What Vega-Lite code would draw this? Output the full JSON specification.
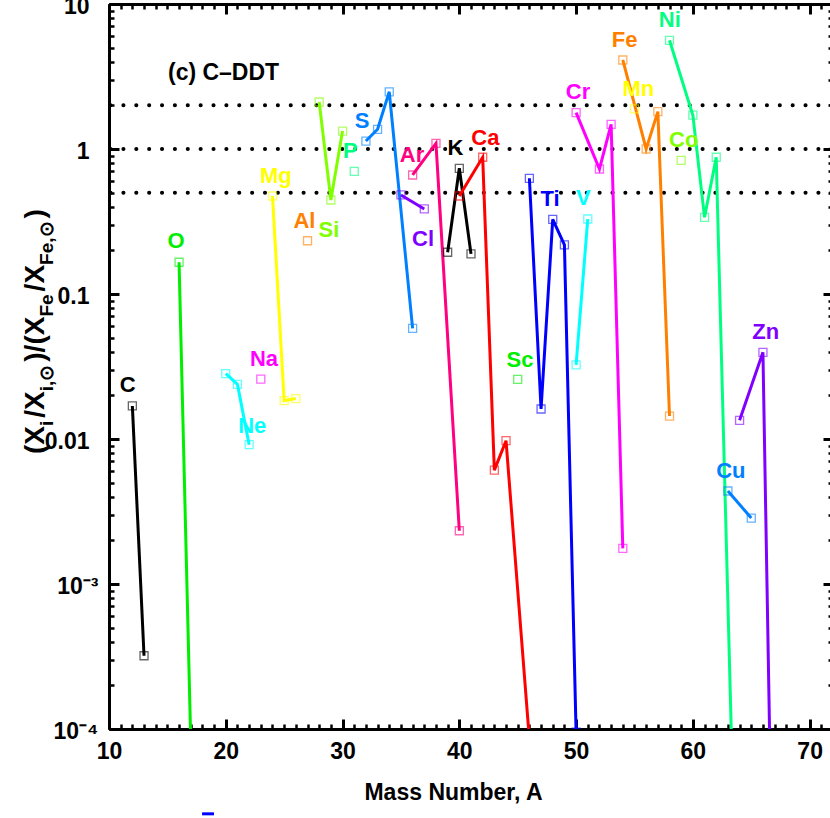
{
  "$schema": "https://vega.github.io/schema/vega-lite/v6.json",
  "width": 724,
  "height": 725,
  "autosize": {"type": "none"},
  "padding": {"left": 109, "top": 4, "right": 0, "bottom": 89},
  "background": "white",
  "config": {
    "view": {"stroke": null},
    "axis": {"domainColor": "black", "domainWidth": 3, "tickColor": "black", "tickWidth": 2.5, "grid": false, "labelFont": "Liberation Sans", "labelFontWeight": "bold", "labelFontSize": 23, "labelColor": "black", "titleFont": "Liberation Sans", "titleFontWeight": "bold", "titleFontSize": 23, "titleColor": "black", "labelOverlap": false, "labelFlush": false},
    "text": {"font": "Liberation Sans", "fontWeight": "bold"}
  },
  "datasets": {
    "pts": [
      {"el": "C", "A": 12, "v": 0.0169}, {"el": "C", "A": 13, "v": 0.00032},
      {"el": "O", "A": 16, "v": 0.1655}, {"el": "O", "A": 17, "v": 0.000083},
      {"el": "Ne", "A": 20, "v": 0.0282}, {"el": "Ne", "A": 21, "v": 0.0238}, {"el": "Ne", "A": 22, "v": 0.00914},
      {"el": "Na", "A": 23, "v": 0.0259},
      {"el": "Mg", "A": 24, "v": 0.474}, {"el": "Mg", "A": 25, "v": 0.01837}, {"el": "Mg", "A": 26, "v": 0.019},
      {"el": "Al", "A": 27, "v": 0.233},
      {"el": "Si", "A": 28, "v": 2.11}, {"el": "Si", "A": 29, "v": 0.445}, {"el": "Si", "A": 30, "v": 1.33},
      {"el": "P", "A": 31, "v": 0.702},
      {"el": "S", "A": 32, "v": 1.135}, {"el": "S", "A": 33, "v": 1.367}, {"el": "S", "A": 34, "v": 2.48}, {"el": "S", "A": 36, "v": 0.058},
      {"el": "Cl", "A": 35, "v": 0.482}, {"el": "Cl", "A": 37, "v": 0.386},
      {"el": "Ar", "A": 36, "v": 0.662}, {"el": "Ar", "A": 38, "v": 1.094}, {"el": "Ar", "A": 40, "v": 0.00233},
      {"el": "K", "A": 39, "v": 0.194}, {"el": "K", "A": 40, "v": 0.736}, {"el": "K", "A": 41, "v": 0.189},
      {"el": "Ca", "A": 40, "v": 0.474}, {"el": "Ca", "A": 42, "v": 0.877}, {"el": "Ca", "A": 43, "v": 0.0061}, {"el": "Ca", "A": 44, "v": 0.00973}, {"el": "Ca", "A": 46, "v": 0.000085},
      {"el": "Sc", "A": 45, "v": 0.0258},
      {"el": "Ti", "A": 46, "v": 0.628}, {"el": "Ti", "A": 47, "v": 0.0161}, {"el": "Ti", "A": 48, "v": 0.327}, {"el": "Ti", "A": 49, "v": 0.218}, {"el": "Ti", "A": 50, "v": 0.000095},
      {"el": "V", "A": 50, "v": 0.0324}, {"el": "V", "A": 51, "v": 0.329},
      {"el": "Cr", "A": 50, "v": 1.78}, {"el": "Cr", "A": 52, "v": 0.728}, {"el": "Cr", "A": 53, "v": 1.48}, {"el": "Cr", "A": 54, "v": 0.00176},
      {"el": "Mn", "A": 55, "v": 1.89},
      {"el": "Fe", "A": 54, "v": 4.11}, {"el": "Fe", "A": 56, "v": 1.0}, {"el": "Fe", "A": 57, "v": 1.81}, {"el": "Fe", "A": 58, "v": 0.0144},
      {"el": "Co", "A": 59, "v": 0.836},
      {"el": "Ni", "A": 58, "v": 5.62}, {"el": "Ni", "A": 60, "v": 1.71}, {"el": "Ni", "A": 61, "v": 0.338}, {"el": "Ni", "A": 62, "v": 0.877}, {"el": "Ni", "A": 64, "v": 0.00000063},
      {"el": "Cu", "A": 63, "v": 0.00438}, {"el": "Cu", "A": 65, "v": 0.00285},
      {"el": "Zn", "A": 64, "v": 0.01345}, {"el": "Zn", "A": 66, "v": 0.0396}, {"el": "Zn", "A": 67, "v": 0.000001}
    ],
    "labs": [
      {"el": "C", "A": 11.61, "v": 0.0211}, {"el": "O", "A": 15.74, "v": 0.2075}, {"el": "Ne", "A": 22.27, "v": 0.011},
      {"el": "Na", "A": 23.27, "v": 0.0319}, {"el": "Mg", "A": 24.28, "v": 0.583}, {"el": "Al", "A": 26.74, "v": 0.285},
      {"el": "Si", "A": 28.84, "v": 0.246}, {"el": "P", "A": 30.67, "v": 0.871}, {"el": "S", "A": 31.67, "v": 1.389},
      {"el": "Cl", "A": 36.89, "v": 0.214}, {"el": "Ar", "A": 35.95, "v": 0.809}, {"el": "K", "A": 39.67, "v": 0.909},
      {"el": "Ca", "A": 42.23, "v": 1.066}, {"el": "Sc", "A": 45.2, "v": 0.0312}, {"el": "Ti", "A": 47.77, "v": 0.404},
      {"el": "V", "A": 50.62, "v": 0.411}, {"el": "Cr", "A": 50.16, "v": 2.2}, {"el": "Mn", "A": 55.33, "v": 2.32},
      {"el": "Fe", "A": 54.16, "v": 5.08}, {"el": "Co", "A": 59.22, "v": 1.037}, {"el": "Ni", "A": 58.02, "v": 6.97},
      {"el": "Cu", "A": 63.25, "v": 0.00536}, {"el": "Zn", "A": 66.24, "v": 0.0487}
    ],
    "refs": [{"v": 0.5}, {"v": 1}, {"v": 2}],
    "note": [{"t": "(c) C–DDT", "A": 15.05, "v": 2.99}],
    "ytb": [
      {"t": "(X", "A": 4.43, "v": 0.00788},
      {"t": "/X", "A": 4.43, "v": 0.014024},
      {"t": ")/(X", "A": 4.43, "v": 0.034126},
      {"t": "/X", "A": 4.43, "v": 0.10421},
      {"t": ")", "A": 4.43, "v": 0.33176}
    ],
    "yts": [
      {"t": "i", "A": 5.2, "v": 0.012291},
      {"t": "i,⊙", "A": 5.2, "v": 0.021368},
      {"t": "Fe", "A": 5.2, "v": 0.069842},
      {"t": "Fe,⊙", "A": 5.2, "v": 0.15873}
    ],
    "stray": [{"A": 17.97, "A2": 18.99, "v": 0.000026}]
  },
  "layer": [
    {
      "layer": [
        {
          "data": {"name": "refs"},
          "mark": {"type": "rule", "color": "black", "strokeWidth": 4, "strokeCap": "round", "strokeDash": [0.1, 12.77], "strokeDashOffset": 11.2},
          "encoding": {
            "y": {"field": "v", "type": "quantitative", "scale": {"type": "log", "domain": [0.0001, 10], "nice": false}}
          }
        },
        {
          "data": {"name": "pts"},
          "mark": {"type": "line", "strokeWidth": 3, "clip": true},
          "encoding": {
            "x": {"field": "A", "type": "quantitative", "scale": {"domain": [10, 72], "nice": false, "zero": false},
              "axis": {"orient": "bottom", "values": [10,20,30,40,50,60,70],
                "labelOverlap": false, "tickSize": -10, "tickWidth": 3, "labelPadding": 21,
                "title": "Mass Number, A", "titleX": 344, "titleY": 70, "titleAlign": "center", "titleBaseline": "alphabetic", "titleAnchor": null}},
            "y": {"field": "v", "type": "quantitative", "scale": {"type": "log", "domain": [0.0001, 10], "nice": false},
              "axis": {"orient": "left", "values": [0.0001,0.001,0.01,0.1,1,10],
                "labelExpr": "datum.value == 10 ? '10' : datum.value == 1 ? '1' : datum.value == 0.1 ? '0.1' : datum.value == 0.01 ? '0.01' : datum.value == 0.001 ? '10⁻³' : '10⁻⁴'",
                "labelOverlap": false, "tickSize": -10, "tickWidth": 3,
                "labelPadding": {"condition": {"test": "datum.value < 0.005", "value": 21}, "value": 30},
                "labelOffset": 2,
                "title": null}},
            "color": {"field": "el", "type": "nominal", "legend": null,
              "scale": {"domain": ["C","O","Ne","Na","Mg","Al","Si","P","S","Cl","Ar","K","Ca","Sc","Ti","V","Cr","Mn","Fe","Co","Ni","Cu","Zn"],
                "range": ["#000000","#00ee00","#00ffff","#ff00ff","#ffff00","#ff8000","#80ff00","#00ff80","#0080ff","#8000ff","#ff0080","#000000","#ff0000","#00ee00","#0000ff","#00ffff","#ff00ff","#ffff00","#ff8000","#80ff00","#00ff80","#0080ff","#8000ff"]}}
          }
        },
        {
          "data": {"name": "pts"},
          "mark": {"type": "point", "shape": "square", "filled": false, "size": 64, "strokeWidth": 1.3, "opacity": 0.6, "clip": true},
          "encoding": {
            "x": {"field": "A", "type": "quantitative", "scale": {"domain": [10, 72], "nice": false, "zero": false}},
            "y": {"field": "v", "type": "quantitative", "scale": {"type": "log", "domain": [0.0001, 10], "nice": false}},
            "color": {"field": "el", "type": "nominal", "legend": null}
          }
        },
        {
          "data": {"name": "labs"},
          "mark": {"type": "text", "align": "center", "baseline": "alphabetic", "fontSize": 22},
          "encoding": {
            "x": {"field": "A", "type": "quantitative", "scale": {"domain": [10, 72], "nice": false, "zero": false}},
            "y": {"field": "v", "type": "quantitative", "scale": {"type": "log", "domain": [0.0001, 10], "nice": false}},
            "text": {"field": "el"},
            "color": {"field": "el", "type": "nominal", "legend": null}
          }
        },
        {
          "data": {"name": "note"},
          "mark": {"type": "text", "align": "left", "baseline": "alphabetic", "fontSize": 23, "color": "black"},
          "encoding": {
            "x": {"field": "A", "type": "quantitative", "scale": {"domain": [10, 72], "nice": false, "zero": false}},
            "y": {"field": "v", "type": "quantitative", "scale": {"type": "log", "domain": [0.0001, 10], "nice": false}},
            "text": {"field": "t"}
          }
        },
        {
          "data": {"name": "ytb"},
          "mark": {"type": "text", "align": "left", "baseline": "alphabetic", "angle": 270, "fontSize": 28, "color": "black", "clip": false},
          "encoding": {
            "x": {"field": "A", "type": "quantitative", "scale": {"domain": [10, 72], "nice": false, "zero": false}},
            "y": {"field": "v", "type": "quantitative", "scale": {"type": "log", "domain": [0.0001, 10], "nice": false}},
            "text": {"field": "t"}
          }
        },
        {
          "data": {"name": "yts"},
          "mark": {"type": "text", "align": "left", "baseline": "alphabetic", "angle": 270, "fontSize": 19, "color": "black", "clip": false},
          "encoding": {
            "x": {"field": "A", "type": "quantitative", "scale": {"domain": [10, 72], "nice": false, "zero": false}},
            "y": {"field": "v", "type": "quantitative", "scale": {"type": "log", "domain": [0.0001, 10], "nice": false}},
            "text": {"field": "t"}
          }
        }
      ]
    },
    {
      "data": {"name": "stray"},
      "mark": {"type": "rule", "color": "#0000ff", "strokeWidth": 3, "clip": false},
      "encoding": {
        "x": {"field": "A", "type": "quantitative", "scale": {"domain": [10, 72], "nice": false, "zero": false},
          "axis": {"orient": "top", "labels": false, "title": null, "values": [10,20,30,40,50,60,70], "tickSize": -10, "tickWidth": 3}},
        "x2": {"field": "A2"},
        "y": {"field": "v", "type": "quantitative", "scale": {"type": "log", "domain": [0.0001, 10], "nice": false},
          "axis": {"orient": "right", "labels": false, "title": null, "values": [0.0001,0.001,0.01,0.1,1,10], "tickSize": -10, "tickWidth": 3}}
      }
    },
    {
      "data": {"name": "stray"},
      "mark": {"type": "point", "opacity": 0, "clip": true},
      "encoding": {
        "x": {"field": "A", "type": "quantitative", "scale": {"domain": [10, 72], "nice": false, "zero": false},
          "axis": {"orient": "bottom", "labels": false, "title": null, "tickSize": -5, "values": [11,12,13,14,15,16,17,18,19,21,22,23,24,25,26,27,28,29,31,32,33,34,35,36,37,38,39,41,42,43,44,45,46,47,48,49,51,52,53,54,55,56,57,58,59,61,62,63,64,65,66,67,68,69,71]}},
        "y": {"field": "v", "type": "quantitative", "scale": {"type": "log", "domain": [0.0001, 10], "nice": false},
          "axis": {"orient": "left", "labels": false, "title": null, "tickSize": -5, "values": [0.0002,0.0003,0.0004,0.0005,0.0006,0.0007,0.0008,0.0009,0.002,0.003,0.004,0.005,0.006,0.007,0.008,0.009,0.02,0.03,0.04,0.05,0.06,0.07,0.08,0.09,0.2,0.3,0.4,0.5,0.6,0.7,0.8,0.9,2,3,4,5,6,7,8,9]}}
      }
    },
    {
      "data": {"name": "stray"},
      "mark": {"type": "point", "opacity": 0, "clip": true},
      "encoding": {
        "x": {"field": "A", "type": "quantitative", "scale": {"domain": [10, 72], "nice": false, "zero": false},
          "axis": {"orient": "top", "labels": false, "title": null, "tickSize": -5, "values": [11,12,13,14,15,16,17,18,19,21,22,23,24,25,26,27,28,29,31,32,33,34,35,36,37,38,39,41,42,43,44,45,46,47,48,49,51,52,53,54,55,56,57,58,59,61,62,63,64,65,66,67,68,69,71]}},
        "y": {"field": "v", "type": "quantitative", "scale": {"type": "log", "domain": [0.0001, 10], "nice": false},
          "axis": {"orient": "right", "labels": false, "title": null, "tickSize": -5, "values": [0.0002,0.0003,0.0004,0.0005,0.0006,0.0007,0.0008,0.0009,0.002,0.003,0.004,0.005,0.006,0.007,0.008,0.009,0.02,0.03,0.04,0.05,0.06,0.07,0.08,0.09,0.2,0.3,0.4,0.5,0.6,0.7,0.8,0.9,2,3,4,5,6,7,8,9]}}
      }
    }
  ],
  "resolve": {"axis": {"x": "independent", "y": "independent"}}
}
